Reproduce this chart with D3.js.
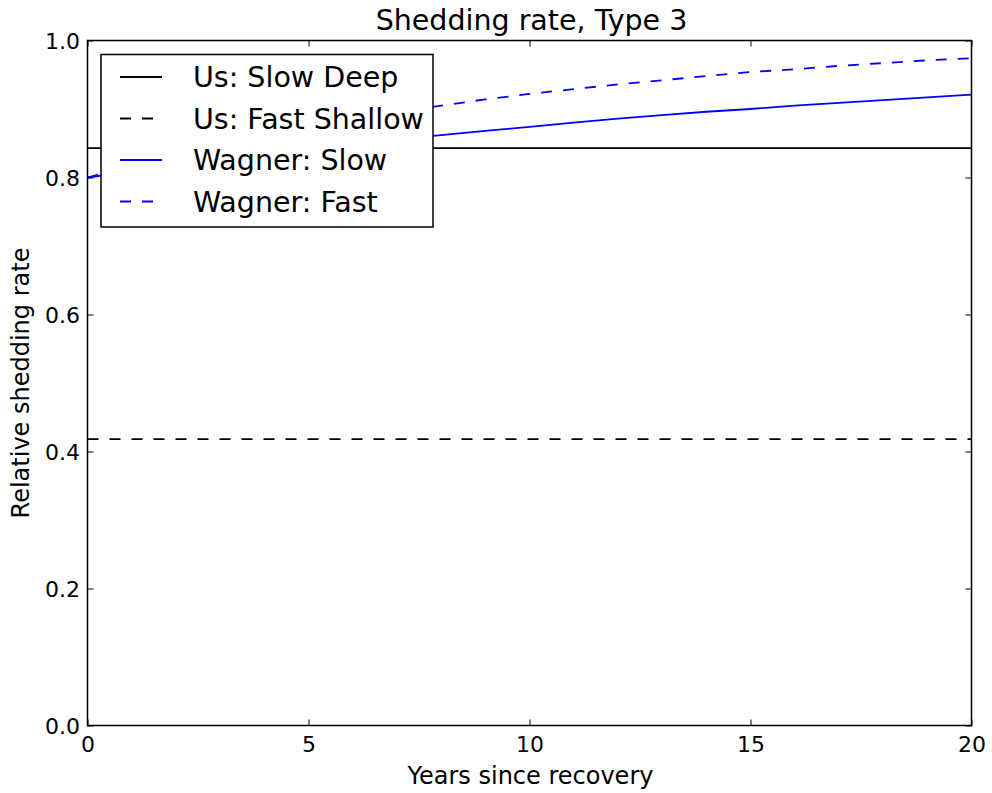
<!DOCTYPE html>
<html>
<head>
<meta charset="utf-8">
<script src="https://cdn.jsdelivr.net/npm/d3@7"></script>
<style>
  body { margin: 0; background: #fff; }
  svg { display: block; font-family: "DejaVu Sans", sans-serif; }
</style>
</head>
<body>
<svg id="chart" width="992" height="793"></svg>
<script>
// ---- data ----
const years = [0,1,2,3,4,5,6,7,8,9,10,11,12,13,14,15,16,17,18,19,20];
const usSlowDeep = 0.843;
const usFastShallow = 0.418;
const wagnerSlow = [0.800,0.809,0.818,0.826,0.834,0.841,0.849,0.856,0.862,0.868,0.874,0.880,0.886,0.891,0.896,0.900,0.905,0.909,0.913,0.917,0.921];
const wagnerFast = [0.800,0.817,0.833,0.848,0.861,0.874,0.885,0.896,0.905,0.914,0.922,0.929,0.936,0.942,0.948,0.954,0.958,0.963,0.967,0.971,0.974];
const xTicks = [0,5,10,15,20];
const yTicks = [0.0,0.2,0.4,0.6,0.8,1.0];
const seriesNames = ["Us: Slow Deep","Us: Fast Shallow","Wagner: Slow","Wagner: Fast"];
const seriesColors = ["#000000","#000000","#0000ff","#0000ff"];
const seriesDashed = [false,true,false,true];
const titleText = "Shedding rate, Type 3";
const xLabel = "Years since recovery";
const yLabel = "Relative shedding rate";

// ---- layout ----
const svg = d3.select("#chart");
const L = 87.5, R = 971.5, T = 40.5, B = 725.5;
const x = d3.scaleLinear().domain([0,20]).range([L,R]);
const y = d3.scaleLinear().domain([0,1]).range([B,T]);
const dash = "11,11";
const lw = 1.8;

const series = [
  years.map(t => [t, usSlowDeep]),
  years.map(t => [t, usFastShallow]),
  years.map((t,i) => [t, wagnerSlow[i]]),
  years.map((t,i) => [t, wagnerFast[i]])
];

const line = d3.line().x(d => x(d[0])).y(d => y(d[1]));
const g = svg.append("g");
series.forEach((s,i) => {
  g.append("path").datum(s).attr("d", line)
    .attr("fill","none").attr("stroke", seriesColors[i])
    .attr("stroke-width", lw)
    .attr("stroke-dasharray", seriesDashed[i] ? dash : null);
});

// axes (ticks inward)
const tickLen = 6;
const axB = d3.axisBottom(x).tickValues(xTicks).tickSizeInner(-tickLen).tickSizeOuter(0).tickPadding(10).tickFormat(d3.format("d"));
const axT = d3.axisTop(x).tickValues(xTicks).tickSizeInner(-tickLen).tickSizeOuter(0).tickFormat("");
const axL = d3.axisLeft(y).tickValues(yTicks).tickSizeInner(-tickLen).tickSizeOuter(0).tickPadding(8).tickFormat(d3.format(".1f"));
const axR = d3.axisRight(y).tickValues(yTicks).tickSizeInner(-tickLen).tickSizeOuter(0).tickFormat("");

function style(sel){
  sel.select(".domain").remove();
  sel.selectAll("line").attr("stroke","#000").attr("stroke-width",1);
  sel.selectAll("text").attr("font-size","22px").attr("fill","#000").attr("font-family","DejaVu Sans");
}
svg.append("g").attr("transform",`translate(0,${B})`).call(axB).call(style)
  .selectAll("text").attr("dy",null).attr("y",null).attr("transform","translate(0,26.5)");
svg.append("g").attr("transform",`translate(0,${T})`).call(axT).call(style);
svg.append("g").attr("transform",`translate(${L},0)`).call(axL).call(style)
  .selectAll("text").attr("x",-7.5).attr("dy","0.36em");
svg.append("g").attr("transform",`translate(${R},0)`).call(axR).call(style);

svg.append("rect").attr("x",L).attr("y",T).attr("width",R-L).attr("height",B-T)
  .attr("fill","none").attr("stroke","#000").attr("stroke-width",1.5);

// title & labels
svg.append("text").attr("x",(L+R)/2+2).attr("y",30).attr("text-anchor","middle")
  .attr("font-size","28.5px").text(titleText);
svg.append("text").attr("x",(L+R)/2+1).attr("y",784).attr("text-anchor","middle")
  .attr("font-size","24px").text(xLabel);
svg.append("text").attr("transform",`translate(29,${(T+B)/2}) rotate(-90)`).attr("text-anchor","middle")
  .attr("font-size","24px").text(yLabel);

// legend
const lg = svg.append("g");
lg.append("rect").attr("x",101).attr("y",54.5).attr("width",332).attr("height",172.5)
  .attr("fill","#fff").attr("stroke","#000").attr("stroke-width",1.5);
seriesNames.forEach((n,i) => {
  const yy = 77 + i*41.5;
  lg.append("line").attr("x1",120).attr("x2",162).attr("y1",yy).attr("y2",yy)
    .attr("stroke",seriesColors[i]).attr("stroke-width",lw)
    .attr("stroke-dasharray", seriesDashed[i] ? dash : null);
  lg.append("text").attr("x",193).attr("y",yy+10).attr("font-size","28.5px").text(n);
});
</script>
</body>
</html>
